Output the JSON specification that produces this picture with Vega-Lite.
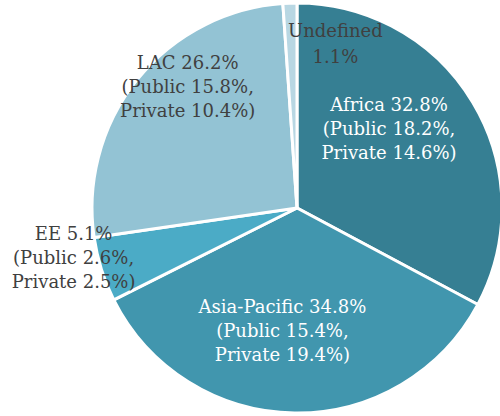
{
  "$schema": "https://vega.github.io/schema/vega-lite/v6.json",
  "autosize": "none",
  "width": 406,
  "height": 416,
  "padding": {"left": 94, "top": 0, "right": 0, "bottom": 0},
  "background": "white",
  "view": {"stroke": null},
  "data": {
    "values": [
      {"region": "Africa", "value": 32.8, "label": "Africa 32.8%\n(Public 18.2%,\nPrivate 14.6%)"},
      {"region": "Asia-Pacific", "value": 34.8, "label": "Asia-Pacific 34.8%\n(Public 15.4%,\nPrivate 19.4%)"},
      {"region": "EE", "value": 5.1, "label": "EE 5.1%\n(Public 2.6%,\nPrivate 2.5%)"},
      {"region": "LAC", "value": 26.2, "label": "LAC 26.2%\n(Public 15.8%,\nPrivate 10.4%)"},
      {"region": "Undefined", "value": 1.1, "label": "Undefined\n1.1%"}
    ]
  },
  "encoding": {
    "theta": {"field": "value", "type": "quantitative", "stack": true},
    "order": {"field": "region", "sort": "ascending"}
  },
  "layer": [
    {
      "mark": {"type": "arc", "outerRadius": 205, "stroke": "white", "strokeWidth": 3},
      "encoding": {
        "color": {
          "field": "region",
          "type": "nominal",
          "scale": {
            "domain": ["Africa", "Asia-Pacific", "EE", "LAC", "Undefined"],
            "range": ["#367f93", "#4196ae", "#4babc6", "#93c3d4", "#b8d7e3"]
          },
          "legend": null
        }
      }
    },
    {
      "mark": {"type": "text", "radius": 119, "dx": -10, "dy": -41, "font": "DejaVu Serif", "fontSize": 18, "lineHeight": 24, "lineBreak": "\n", "align": "center", "baseline": "middle", "fill": "white"},
      "encoding": {"text": {"condition": {"test": "datum.region === 'Africa'", "field": "label"}, "value": ""}}
    },
    {
      "mark": {"type": "text", "radius": 124, "dx": -13, "dy": -24, "font": "DejaVu Serif", "fontSize": 18, "lineHeight": 24, "lineBreak": "\n", "align": "center", "baseline": "middle", "fill": "white"},
      "encoding": {"text": {"condition": {"test": "datum.region === 'Asia-Pacific'", "field": "label"}, "value": ""}}
    },
    {
      "mark": {"type": "text", "radius": 230, "dx": -4, "dy": -42, "font": "DejaVu Serif", "fontSize": 18, "lineHeight": 24, "lineBreak": "\n", "align": "center", "baseline": "middle", "fill": "#404040"},
      "encoding": {"text": {"condition": {"test": "datum.region === 'EE'", "field": "label"}, "value": ""}}
    },
    {
      "mark": {"type": "text", "radius": 161, "dx": 16, "dy": -43, "font": "DejaVu Serif", "fontSize": 18, "lineHeight": 24, "lineBreak": "\n", "align": "center", "baseline": "middle", "fill": "#404040"},
      "encoding": {"text": {"condition": {"test": "datum.region === 'LAC'", "field": "label"}, "value": ""}}
    },
    {
      "mark": {"type": "text", "radius": 162, "dx": 44, "dy": -14, "font": "DejaVu Serif", "fontSize": 18, "lineHeight": 26, "lineBreak": "\n", "align": "center", "baseline": "middle", "fill": "#404040"},
      "encoding": {"text": {"condition": {"test": "datum.region === 'Undefined'", "field": "label"}, "value": ""}}
    }
  ]
}
